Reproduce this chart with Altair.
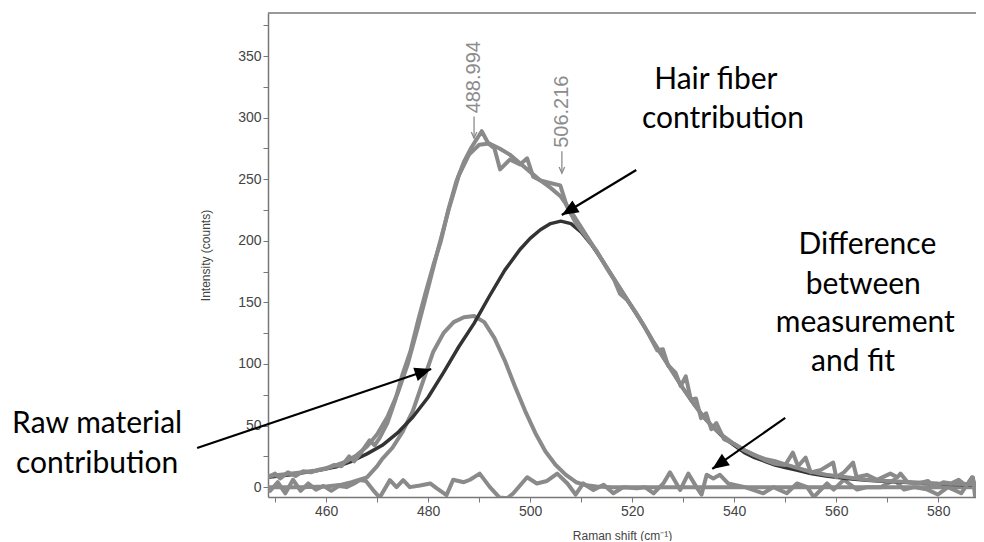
import math
import altair as alt
import pandas as pd

# ---------------- data ----------------
x_measured = [448.6, 450, 451, 452.5, 454, 455.5, 457, 458.5, 460, 461.5, 463, 464.5, 465.5, 467,
              468.5, 469.5, 470.5, 472, 473.5, 475, 476.5, 478, 479.5, 481, 482.5, 484, 485.5, 487,
              488.5, 490.5, 491.8, 493, 494.1, 496, 498, 499.4, 500.6, 502, 503.9, 505.9, 507.2,
              509, 511, 513, 515, 516.5, 517.6, 519, 521, 523, 524.9, 526, 527, 528.5, 529.5, 530.5,
              531.5, 532.5, 533.5, 534.5, 535.5, 536.5, 538, 540, 542, 544, 546, 548, 550, 551.5,
              552.5, 554, 555, 557, 559.4, 560, 561.5, 563.3, 564, 566, 568, 570.6, 572, 572.6, 574,
              576, 578, 579.2, 581, 582.5, 584, 585.5, 586.8, 587.2, 588, 589]
y_measured = [8, 11, 7, 12, 9, 13, 12, 14, 15, 18, 17, 25, 21, 29,
              38, 34, 40, 52, 70, 92, 110, 135, 158, 180, 200, 226, 248, 264,
              276, 289, 279, 275, 258, 266, 262, 267, 252, 249, 247, 245, 228,
              214, 203, 192, 178, 168, 157, 152, 140, 126, 111, 112, 99, 93, 82, 90,
              71, 72, 56, 60, 47, 52, 39, 35, 30, 26, 22, 19, 18, 28,
              17, 24, 12, 14, 20, 8, 12, 20, 8, 10, 6, 11, 8, 11, 4,
              3, 5, 0, 4, 3, 6, 1, 8, -7, 2, 4]

x_fit = [448.6, 452, 455, 458, 461, 464, 466, 468, 470, 472, 474, 476, 478, 480, 482, 484, 486,
         488, 490, 492, 494, 496, 498, 500, 502, 504, 506, 508, 510, 512, 514, 516, 518, 520,
         522, 524, 526, 528, 530, 532, 534, 536, 538, 540, 542, 544, 546, 548, 550, 552, 555,
         558, 562, 566, 570, 575, 580, 585, 589]
y_fit = [9, 10.5, 12, 13.5, 16.5, 21, 26, 33, 43, 57, 76, 100, 130, 162, 194, 225, 253,
         270, 278, 279, 275, 270, 263, 256, 249, 243, 236, 224, 211, 198, 185, 172, 159, 146,
         133, 119, 106, 93, 80, 68, 57, 48, 41, 35, 30, 26, 23, 21, 18.5, 16, 12.5,
         10, 8, 6, 5, 4, 3, 2.5, 2]

x_hair = [448.6, 453, 456, 459, 462, 465, 468, 471, 474, 477, 480, 483, 486, 489, 492, 495, 498,
          500, 502, 504, 506, 508, 510, 512, 514, 516, 518, 520, 522, 524, 526, 528, 530, 532,
          534, 536, 538, 540, 542, 544, 546, 548, 550, 552, 555, 558, 562, 566, 570, 575, 580,
          585, 589]
y_hair = [8, 10, 12, 14, 16.5, 21, 27, 34, 44, 57, 73, 93, 114, 133, 155, 176, 193,
          202, 209, 214, 216, 214, 207, 197, 185, 172, 159, 146, 133, 119, 106, 93, 80, 68,
          57, 48, 40, 34, 28, 24, 21, 18, 16, 14, 11, 9, 7, 5.5, 4.5, 3.5, 2.5,
          2, 1.5]

x_raw = [448.6, 455, 460, 463, 465, 468, 470, 471, 473, 475, 477, 479, 481, 483, 485, 487, 489,
         491, 493, 495, 497, 499, 501, 503, 505, 507, 509, 511, 513, 516, 589]
y_raw = [0, 0, 0.5, 2, 4, 8, 17, 23, 32, 45, 62, 86, 110, 125, 134, 138, 139,
         134, 121, 103, 82, 62, 44, 29, 18, 10, 4, 1.5, 0.5, 0, 0]

x_diff = [449, 450.5, 452, 453.5, 455, 456.5, 458, 459.5, 461, 462.5, 464, 465.5, 466.6, 467.8,
          469.2, 470.5, 472.5, 473.8, 475.1, 476.4, 478.4, 480.4, 481.7, 483.6, 484.9, 487, 488.2,
          490.1, 492.1, 494, 495.5, 496.7, 499.4, 501.3, 503.3, 505.3, 507.3, 508.9, 510.4, 512.4,
          514.4, 516.3, 518.3, 520.9, 522.5, 524.2, 526.1, 527.4, 529.4, 531, 532.6, 533.6, 534.6,
          535.9, 537.2, 538.8, 542.1, 545.7, 547.7, 550.3, 552.3, 554.3, 555.6, 558.2, 559.5, 561.5,
          564.1, 566.1, 568.7, 571.4, 573.3, 575.3, 577.9, 579.9, 581.9, 584.5, 586.6, 588.2]
y_diff = [-3, 4, -5, 6, -3, 3, -2, 1, -3, 1, 0, 3, 5.7, 5,
          -2.4, -8.5, 5.7, 0, 5.7, 0, 1.4, 3, -1, -6.5, 6, 4, 6,
          11, 0, -8.5, -9, -5, 8, 3, 5, 11, 3, -6, 3, -2.4,
          2, -5, 0, -1, 0, -5, 3, 12, -2.4, 11, 0, -6, 10,
          7, 10, 3, 0, -5, 0, -5, 3, 0, -8, 3, -2, 6,
          -2, 0, 0, 6, -2, 0, -2, -6, 0, -5, 8, -8]

# peak markers: label text start and small arrow (top -> tip)
peak_values = [488.994, 506.216]
peak_text_y = [303.5, 275.5]
peak_arrow_top = [301.0, 272.8]
peak_arrow_tip = [283.4, 254.9]

annot_text = ["Hair fiber", "contribution", "Difference", "between", "measurement", "and fit",
              "Raw material", "contribution"]
annot_x = [536.4, 537.8, 566.1, 565.3, 565.7, 563.3, 415.1, 415.1]
annot_y = [330.6, 298.9, 196.5, 164, 133.2, 101.5, 51.2, 18.7]

arrow_x1 = [520.8, 434.7, 550.0]
arrow_y1 = [257.5, 31.8, 56.2]
arrow_x2 = [506.2, 480.6, 535.7]
arrow_y2 = [221.0, 95.9, 14.8]

# ---------------- layout ----------------
X_DOMAIN = [448.6, 587.4]
Y_DOMAIN = [-8, 385]
W, H = 708, 484
GREY = "#8a8a8a"
LABEL_GREY = "#8c8c8c"
DARK = "#333333"

xs = alt.Scale(domain=X_DOMAIN, nice=False, zero=False)
ys = alt.Scale(domain=Y_DOMAIN, nice=False, zero=False)

x_axis = alt.Axis(values=list(range(450, 590, 10)), title="Raman shift (cm\u207b\u00b9)",
                  labelExpr="datum.value % 20 == 0 ? datum.label : ''", grid=False)
y_axis = alt.Axis(values=list(range(0, 376, 25)), title="Intensity (counts)",
                  labelExpr="datum.value % 50 == 0 ? datum.label : ''", grid=False)

X = lambda: alt.X("x:Q", scale=xs, axis=x_axis)
Y = lambda: alt.Y("y:Q", scale=ys, axis=y_axis)


def line_layer(xv, yv, color, width=4.0):
    df = pd.DataFrame({"x": xv, "y": yv})
    return alt.Chart(df).mark_line(color=color, strokeWidth=width, clip=True,
                                   strokeJoin="round", strokeCap="round").encode(x=X(), y=Y())


raw = line_layer(x_raw, y_raw, GREY)
diff = line_layer(x_diff, y_diff, GREY)
hair = line_layer(x_hair, y_hair, DARK, width=3.5)
fit = line_layer(x_fit, y_fit, GREY)
meas = line_layer(x_measured, y_measured, GREY)

# top frame line
frame_top = alt.Chart(pd.DataFrame({"a": [0]})).mark_rule(color="#777777", strokeWidth=1.5).encode(
    x=alt.value(0), x2=alt.value(W), y=alt.value(0))

# peak labels
peak_df = pd.DataFrame({"x": peak_values, "y": peak_text_y,
                        "label": [f"{v:.3f}" for v in peak_values]})
peaks = alt.Chart(peak_df).mark_text(angle=270, align="left", baseline="middle", fontSize=20,
                                     font="Liberation Sans", color=LABEL_GREY).encode(
    x=X(), y=Y(), text="label:N")
prow = []
for i, (px, a, b) in enumerate(zip(peak_values, peak_arrow_top, peak_arrow_tip)):
    prow.append({"id": i, "o": 0, "x": px, "y": a})
    prow.append({"id": i, "o": 1, "x": px, "y": b})
peak_lines = alt.Chart(pd.DataFrame(prow)).mark_line(color=LABEL_GREY, strokeWidth=1.3).encode(
    x=X(), y=Y(), detail="id:N", order="o:Q")
peak_heads = alt.Chart(pd.DataFrame({"x": peak_values, "y": peak_arrow_tip})).mark_point(
    shape="M-0.45,-1 L0,0 L0.45,-1", filled=False, color=LABEL_GREY, size=150, strokeWidth=1.3,
    opacity=1).encode(x=X(), y=Y())

# annotations
ann_df = pd.DataFrame({"x": annot_x, "y": annot_y, "t": annot_text})
annots = alt.Chart(ann_df).mark_text(font="Lato", fontSize=30, color="#000000", align="center",
                                     baseline="middle").encode(x=X(), y=Y(), text="t:N")

# arrows
sx = W / (X_DOMAIN[1] - X_DOMAIN[0])
sy = H / (Y_DOMAIN[1] - Y_DOMAIN[0])
rows = []
heads = []
for i, (a, b, c, d) in enumerate(zip(arrow_x1, arrow_y1, arrow_x2, arrow_y2)):
    rows.append({"id": i, "o": 0, "x": a, "y": b})
    rows.append({"id": i, "o": 1, "x": c, "y": d})
    dxp = (c - a) * sx
    dyp = -(d - b) * sy
    ang = math.degrees(math.atan2(dxp, -dyp)) % 360
    heads.append({"x": c, "y": d, "ang": ang})
arrow_lines = alt.Chart(pd.DataFrame(rows)).mark_line(color="#000000", strokeWidth=2.2).encode(
    x=X(), y=Y(), detail="id:N", order="o:Q")
arrow_heads = alt.Chart(pd.DataFrame(heads)).mark_point(
    shape="M0,0 L-0.42,1 L0.42,1 Z", filled=True, opacity=1, color="#000000", size=1100,
    strokeWidth=0).encode(x=X(), y=Y(), angle=alt.Angle("ang:Q", scale=None))

chart = alt.layer(raw, diff, hair, fit, meas, frame_top, peaks, peak_lines, peak_heads,
                  arrow_lines, arrow_heads, annots).properties(
    width=W, height=H,
    autosize=alt.AutoSizeParams(type="none"),
    padding={"left": 260, "top": 5, "right": 0, "bottom": 44},
).configure_view(stroke=None).configure_axis(
    domainColor="#777777", domainWidth=1.5, tickColor="#777777", tickSize=5, tickWidth=1,
    labelFont="Liberation Sans", labelFontSize=14, labelColor="#444444", labelPadding=2,
    titleFont="Liberation Sans", titleFontSize=12, titleFontWeight="normal", titleColor="#444444",
).configure_axisY(titlePadding=25).configure_axisX(titlePadding=12)

chart.save("out.html", embed_options={"renderer": "svg", "actions": False})
